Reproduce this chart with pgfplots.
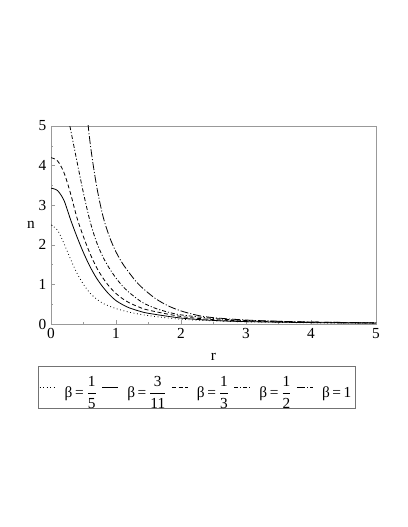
\documentclass[border=0pt]{standalone}
\usepackage{amsmath}
\usepackage{fontspec}
\setmainfont{Liberation Serif}
\usepackage{pgfplots}
\pgfplotsset{compat=1.18}

\begin{document}
\begin{tikzpicture}
\path[use as bounding box] (0,0) rectangle (305.25pt,395.25pt);
\begin{axis}[
  at={(38.25pt,152.25pt)}, anchor=south west,
  width=243.75pt, height=148.5pt,
  scale only axis,
  xmin=0, xmax=5, ymin=0, ymax=5,
  xtick={0,1,...,5}, ytick={0,1,...,5},
  minor tick num=1,
  tick align=inside,
  tickpos=left,
  major tick length=3pt, minor tick length=1.5pt,
  axis line style={gray!80},
  every tick/.style={gray!80, thin},
  font=\fontsize{11.5}{13}\selectfont,
  /pgf/number format/assume math mode=true,
  xlabel={r}, ylabel={n},
  ylabel style={rotate=-90, xshift=4pt},
  xlabel style={yshift=-4pt},
  legend columns=5,
  legend style={at={(0.448,-0.321)}, anchor=center, draw=gray!90!black,
    font=\fontsize{11.5}{13}\selectfont, inner xsep=1pt, inner ysep=5pt,
    /tikz/every even column/.append style={column sep=1.5pt},
    /tikz/every odd column/.append style={column sep=4.5pt}},
  legend image code/.code={\draw[#1] (0pt,0pt) -- (12pt,0pt);},
  every axis plot/.append style={black, line width=0.6pt},
]
% beta = 1/5
\addplot[dotted, smooth] coordinates {
  (0,2.50) (0.1,2.37) (0.2,2.03) (0.3,1.64) (0.4,1.28) (0.5,1.00)
  (0.6,0.78) (0.7,0.63) (0.8,0.52) (0.9,0.45) (1.0,0.39) (1.2,0.30)
  (1.5,0.21) (2.0,0.12) (2.5,0.08) (3.0,0.055) (4.0,0.03) (5.0,0.02)
};
\addlegendentry{β\,=\,$\dfrac{\text{1}}{\text{5}}$}
% beta = 3/11
\addplot[solid, smooth] coordinates {
  (0,3.43) (0.1,3.37) (0.2,3.12) (0.3,2.64) (0.4,2.20) (0.5,1.80)
  (0.6,1.45) (0.7,1.16) (0.8,0.93) (0.9,0.74) (1.0,0.59) (1.1,0.49)
  (1.2,0.41) (1.35,0.33) (1.5,0.27) (2.0,0.15) (2.5,0.09) (3.0,0.06)
  (4.0,0.035) (5.0,0.022)
};
\addlegendentry{β\,=\,$\dfrac{\text{3}}{\text{11}}$}
% beta = 1/3
\addplot[dash pattern=on 3pt off 2pt, smooth] coordinates {
  (0,4.20) (0.1,4.12) (0.2,3.82) (0.3,3.30) (0.4,2.68) (0.5,2.20)
  (0.6,1.78) (0.7,1.43) (0.8,1.16) (0.9,0.94) (1.0,0.77) (1.1,0.64)
  (1.2,0.54) (1.35,0.43) (1.5,0.35) (2.0,0.19) (2.5,0.11) (3.0,0.075)
  (4.0,0.04) (5.0,0.025)
};
\addlegendentry{β\,=\,$\dfrac{\text{1}}{\text{3}}$}
% beta = 1/2
\addplot[dash pattern=on 3pt off 1.5pt on 0.8pt off 1.5pt, smooth] coordinates {
  (0,6.50) (0.1,6.30) (0.2,5.70) (0.3,4.92) (0.4,4.10) (0.5,3.30)
  (0.6,2.60) (0.7,2.07) (0.8,1.69) (0.9,1.40) (1.0,1.16) (1.1,0.96)
  (1.2,0.80) (1.4,0.55) (1.6,0.40) (1.8,0.30) (2.0,0.23) (2.5,0.14)
  (3.0,0.09) (4.0,0.05) (5.0,0.03)
};
\addlegendentry{β\,=\,$\dfrac{\text{1}}{\text{2}}$}
% beta = 1
\addplot[dash pattern=on 6pt off 1.5pt on 0.8pt off 1.5pt, smooth] coordinates {
  (0.3,10.0) (0.4,8.2) (0.5,6.2) (0.6,4.60) (0.7,3.50) (0.8,2.72)
  (0.9,2.20) (1.0,1.82) (1.1,1.53) (1.2,1.30) (1.3,1.09) (1.4,0.92)
  (1.6,0.65) (1.8,0.46) (2.0,0.33) (2.25,0.22) (2.5,0.16) (3.0,0.10)
  (3.5,0.07) (4.0,0.05) (5.0,0.03)
};
\addlegendentry{β\,=\,1$\vphantom{\dfrac{1}{1}}$}
\end{axis}
\end{tikzpicture}
\end{document}
